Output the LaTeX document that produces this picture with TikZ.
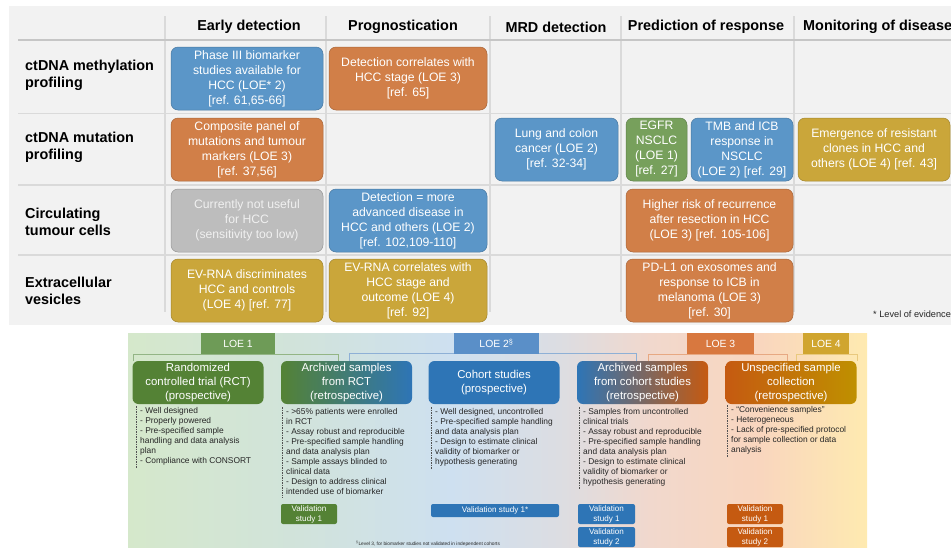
\documentclass[tikz,border=0pt]{standalone}
\usepackage{fontspec}
\setmainfont{Liberation Sans}
\usepackage{tikz}
\usepackage{xcolor}

\definecolor{panelgrey}{HTML}{F2F2F2}
\definecolor{gridgrey}{HTML}{DADADA}
\definecolor{headgrey}{HTML}{C6C6C6}
\definecolor{cblue}{HTML}{5B96C8}
\definecolor{corange}{HTML}{D17F48}
\definecolor{cgreen}{HTML}{77A05C}
\definecolor{cgold}{HTML}{CAA63A}
\definecolor{cgrey}{HTML}{BDBDBD}
\definecolor{cgreytxt}{HTML}{F0F0F0}
\definecolor{dgreen}{HTML}{548235}
\definecolor{dblue}{HTML}{2E75B6}
\definecolor{dorange}{HTML}{C55A11}
\definecolor{dgold}{HTML}{BF9000}
\definecolor{tab1}{HTML}{6E9B57}
\definecolor{tab2}{HTML}{5A8FC8}
\definecolor{tab3}{HTML}{D8783F}
\definecolor{tab4}{HTML}{D0A52F}
\definecolor{brk1}{HTML}{93B585}
\definecolor{brk2}{HTML}{8EB0D6}
\definecolor{brk3}{HTML}{E7A882}
\definecolor{brk4}{HTML}{E9C97E}
\definecolor{bgA}{HTML}{D5E8CB}
\definecolor{bgB}{HTML}{D1E3DB}
\definecolor{bgC}{HTML}{CEE0F0}
\definecolor{bgD}{HTML}{DCDDE2}
\definecolor{bgE}{HTML}{F1D8CD}
\definecolor{bgF}{HTML}{F9D6BE}
\definecolor{bgG}{HTML}{FEEAB0}
\definecolor{listtxt}{HTML}{262626}

\pgfdeclarehorizontalshading{loebg}{100bp}{color(0bp)=(bgA); color(25bp)=(bgA);
  color(36.6bp)=(bgB); color(46.8bp)=(bgC); color(54.2bp)=(bgD);
  color(60.3bp)=(bgE); color(67.8bp)=(bgF); color(75bp)=(bgG); color(100bp)=(bgG)}

\begin{document}
\begin{tikzpicture}[x=1pt,y=-1pt,
  cell/.style={draw=#1!80!black, fill=#1, line width=0.5pt, rounded corners=7pt,
    text=white, align=center, inner sep=0pt, font=\fontsize{12.2}{15}\selectfont},
  colhead/.style={font=\bfseries\fontsize{14.4}{17}\selectfont},
  rowlbl/.style={anchor=west, align=left, inner sep=0pt, font=\bfseries\fontsize{14.4}{17}\selectfont},
  gridline/.style={draw=gridgrey, line width=1.5pt},
  study/.style={rounded corners=6pt, text=white, align=center, inner sep=0pt,
    minimum width=131pt, minimum height=43pt, font=\fontsize{11.4}{13.8}\selectfont},
  crit/.style={anchor=north west, align=left, inner sep=0pt, text=listtxt,
    font=\fontsize{8.4}{10}\selectfont},
  critline/.style={draw=listtxt!80, line width=0.6pt, dash pattern=on 1.5pt off 1pt},
  valbox/.style={fill=#1, rounded corners=2pt, text=white, align=center, inner sep=0pt,
    font=\fontsize{8.1}{10}\selectfont},
  loetab/.style={fill=#1, text=white, inner sep=0pt, minimum height=21pt,
    font=\fontsize{10.4}{12}\selectfont},
  loebracket/.style={draw=#1, line width=1pt}]
\useasboundingbox (0,0) rectangle (951,547);

\fill[panelgrey] (9,6) rectangle (951,325);
\draw[gridline] (165,16) -- (165,312);
\draw[gridline] (326,16) -- (326,312);
\draw[gridline] (490,16) -- (490,312);
\draw[gridline] (621,16) -- (621,312);
\draw[gridline] (794,16) -- (794,312);
\draw[draw=headgrey, line width=2pt] (18,40) -- (951,40);
\draw[gridline] (18,113.5) -- (951,113.5);
\draw[gridline] (18,185) -- (951,185);
\draw[gridline] (18,255) -- (951,255);

\node[colhead] (hearly) at (249,27) {Early detection};
\node[colhead] (hprog) at (403,27) {Prognostication};
\node[colhead] (hmrd) at (556,27) {MRD detection};
\node[colhead] (hpred) at (706,27) {Prediction of response};
\node[colhead, anchor=west, inner sep=0pt] (hmon) at (803,27) {Monitoring of disease};

\node[rowlbl] (rmeth) at (25,75) {ctDNA methylation\\profiling};
\node[rowlbl] (rmut) at (25,147.5) {ctDNA mutation\\profiling};
\node[rowlbl] (rctc) at (25,222) {Circulating\\tumour cells};
\node[rowlbl] (rev) at (25,291) {Extracellular\\vesicles};

\node[cell=cblue, minimum width=152pt, minimum height=63pt] (meth1) at (247,78.5) {Phase III biomarker\\studies available for\\HCC (LOE* 2)\\{[ref. 61,65-66]}};
\node[cell=corange, minimum width=158pt, minimum height=63pt] (meth2) at (408,78.5) {Detection correlates with\\HCC stage (LOE 3)\\{[ref. 65]}};

\node[cell=corange, minimum width=152pt, minimum height=63pt] (mut1) at (247,149.5) {Composite panel of\\mutations and tumour\\markers (LOE 3)\\{[ref. 37,56]}};
\node[cell=cblue, minimum width=123pt, minimum height=63pt] (mut3) at (556.5,149.5) {Lung and colon\\cancer (LOE 2)\\{[ref. 32-34]}};
\node[cell=cgreen, minimum width=61pt, minimum height=63pt] (mut4a) at (656.5,149.5) {EGFR\\NSCLC\\(LOE 1)\\{[ref. 27]}};
\node[cell=cblue, minimum width=102pt, minimum height=63pt] (mut4b) at (742,149.5) {TMB and ICB\\response in\\NSCLC\\(LOE 2) [ref. 29]};
\node[cell=cgold, minimum width=152pt, minimum height=63pt] (mut5) at (874,149.5) {Emergence of resistant\\clones in HCC and\\others (LOE 4) [ref. 43]};

\node[cell=cgrey, text=cgreytxt, minimum width=152pt, minimum height=63pt] (ctc1) at (247,220.5) {Currently not useful\\for HCC\\(sensitivity too low)};
\node[cell=cblue, minimum width=158pt, minimum height=63pt] (ctc2) at (408,220.5) {Detection = more\\advanced disease in\\HCC and others (LOE 2)\\{[ref. 102,109-110]}};
\node[cell=corange, minimum width=167pt, minimum height=63pt] (ctc4) at (709.5,220.5) {Higher risk of recurrence\\after resection in HCC\\(LOE 3) [ref. 105-106]};

\node[cell=cgold, minimum width=152pt, minimum height=63pt] (ev1) at (247,290.5) {EV-RNA discriminates\\HCC and controls\\(LOE 4) [ref. 77]};
\node[cell=cgold, minimum width=158pt, minimum height=63pt] (ev2) at (408,290.5) {EV-RNA correlates with\\HCC stage and\\outcome (LOE 4)\\{[ref. 92]}};
\node[cell=corange, minimum width=167pt, minimum height=63pt] (ev4) at (709.5,290.5) {PD-L1 on exosomes and\\response to ICB in\\melanoma (LOE 3)\\{[ref. 30]}};

\node[anchor=west, inner sep=0pt, text=listtxt, font=\fontsize{9.2}{10}\selectfont] (loenote) at (873,314) {* Level of evidence};

\shade[shading=loebg] (128,333) rectangle (867,547);

\draw[loebracket=brk1] (133,361) |- (338,354) -- (338,361);
\draw[loebracket=brk2] (349,361) |- (636,353) -- (636,361);
\draw[loebracket=brk3] (648,361) |- (787,354) -- (787,361);
\draw[loebracket=brk4] (796,361) |- (857,354) -- (857,361);
\node[loetab=tab1, minimum width=74pt] (loe1) at (238,343.5) {LOE 1};
\node[loetab=tab2, minimum width=85pt] (loe2) at (496.5,343.5) {LOE 2\textsuperscript{§}};
\node[loetab=tab3, minimum width=67pt] (loe3) at (720.5,343.5) {LOE 3};
\node[loetab=tab4, minimum width=46pt] (loe4) at (826,343.5) {LOE 4};

\node[study, fill=dgreen] (rct) at (198,382.5) {Randomized\\controlled trial (RCT)\\(prospective)};
\node[study, left color=dgreen, right color=dblue] (archrct) at (346.5,382.5) {Archived samples\\from RCT\\(retrospective)};
\node[study, fill=dblue] (cohort) at (494,382.5) {Cohort studies\\(prospective)};
\node[study, left color=dblue, right color=dorange] (archcoh) at (642.5,382.5) {Archived samples\\from cohort studies\\(retrospective)};
\node[study, left color=dorange, right color=dgold] (unspec) at (791,382.5) {Unspecified sample\\collection\\(retrospective)};

\node[crit] (crct) at (140,407) {- Well designed\\- Properly powered\\- Pre-specified sample\\handling and data analysis\\plan\\- Compliance with CONSORT};
\node[crit] (carchrct) at (286,408) {- >65\% patients were enrolled\\in RCT\\- Assay robust and reproducible\\- Pre-specified sample handling\\and data analysis plan\\- Sample assays blinded to\\clinical data\\- Design to address clinical\\intended use of biomarker};
\node[crit] (ccohort) at (435,408) {- Well designed, uncontrolled\\- Pre-specified sample handling\\and data analysis plan\\- Design to estimate clinical\\validity of biomarker or\\hypothesis generating};
\node[crit] (carchcoh) at (583,408) {- Samples from uncontrolled\\clinical trials\\- Assay robust and reproducible\\- Pre-specified sample handling\\and data analysis plan\\- Design to estimate clinical\\validity of biomarker or\\hypothesis generating};
\node[crit] (cunspec) at (731,406) {- “Convenience samples”\\- Heterogeneous\\- Lack of pre-specified protocol\\for sample collection or data\\analysis};
\foreach \n in {crct,carchrct,ccohort,carchcoh,cunspec}
  \draw[critline] ([xshift=-3.5pt,yshift=1pt]\n.north west) -- ([xshift=-3.5pt,yshift=-3pt]\n.south west);

\node[valbox=dgreen, minimum width=56pt, minimum height=20pt] (valrct) at (309,514) {Validation\\study 1};
\node[valbox=dblue, minimum width=128pt, minimum height=13pt] (valcoh) at (495,510.5) {Validation study 1*};
\node[valbox=dblue, minimum width=57pt, minimum height=20pt] (valarch1) at (606.5,514) {Validation\\study 1};
\node[valbox=dblue, minimum width=57pt, minimum height=20pt] (valarch2) at (606.5,537) {Validation\\study 2};
\node[valbox=dorange, minimum width=56pt, minimum height=20pt] (valuns1) at (755,514) {Validation\\study 1};
\node[valbox=dorange, minimum width=56pt, minimum height=20pt] (valuns2) at (755,537) {Validation\\study 2};

\node[anchor=west, inner sep=0pt, text=listtxt, font=\fontsize{4.8}{5}\selectfont] (fnote) at (356,543.5) {\textsuperscript{§}Level 3, for biomarker studies not validated in independent cohorts};
\end{tikzpicture}
\end{document}
